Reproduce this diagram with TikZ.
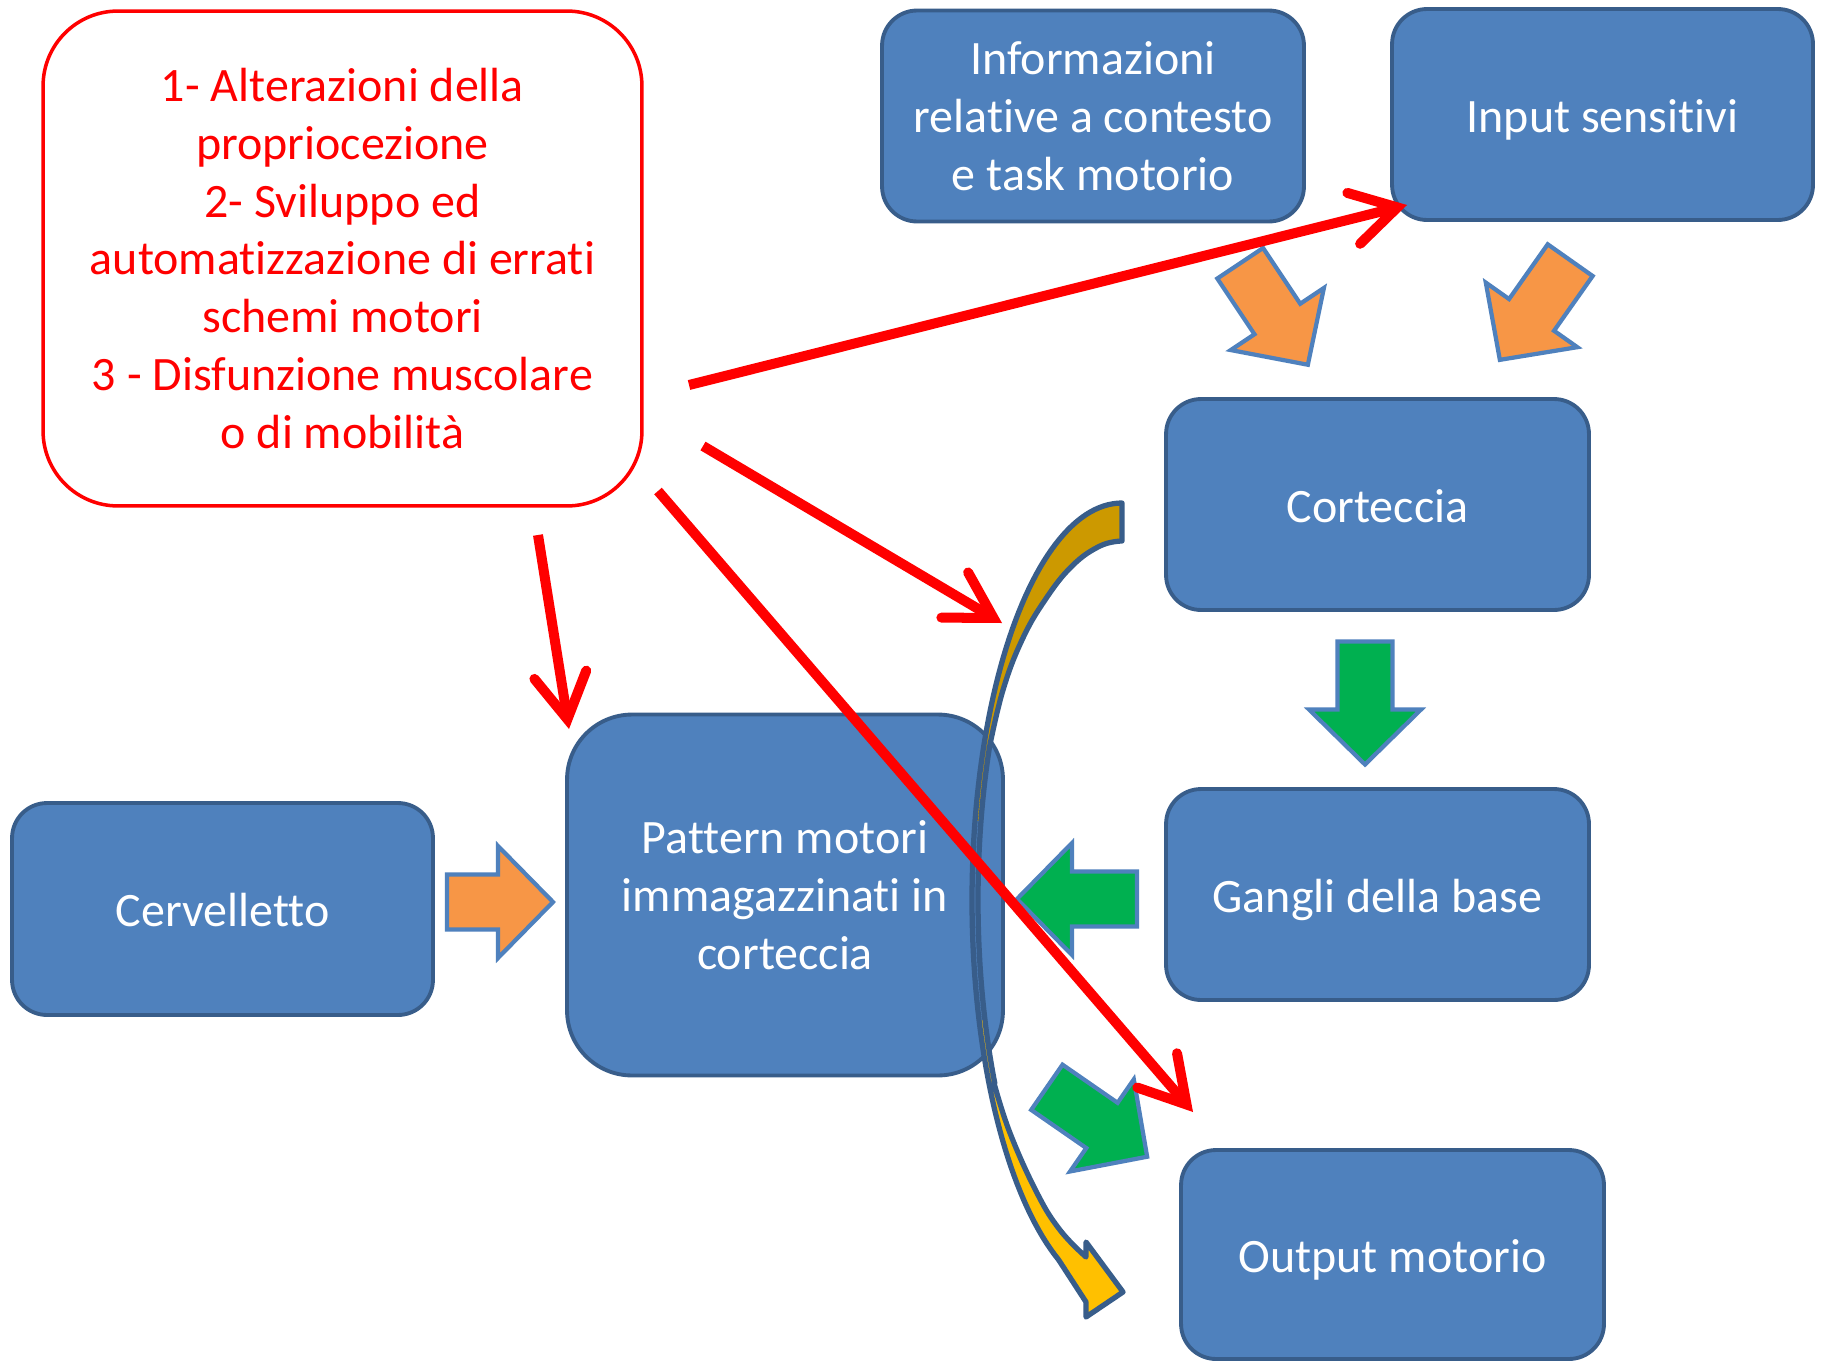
\documentclass[tikz,border=0pt]{standalone}
\usepackage{fontspec}
\setmainfont{Carlito}[Ligatures=CommonOff]
\usetikzlibrary{arrows.meta}
\definecolor{boxfill}{HTML}{4F81BD}
\definecolor{boxline}{HTML}{385D8A}
\definecolor{arrline}{HTML}{4F81BD}
\definecolor{orangef}{HTML}{F79646}
\definecolor{greenf}{HTML}{00B050}
\definecolor{goldf}{HTML}{CC9900}
\definecolor{yellowf}{HTML}{FFC000}
\definecolor{redc}{HTML}{FF0000}
\newcommand\blockarr[5]{%
  \begin{scope}[shift={(#1,#2)}, rotate=#3]
    \path[draw=arrline, line width=2.4pt, fill=#5, line join=miter]
      ({-#4/2},-27.5) -- ({#4/2-55},-27.5) -- ({#4/2-55},-56) -- ({#4/2},0)
      -- ({#4/2-55},56) -- ({#4/2-55},27.5) -- ({-#4/2},27.5) -- cycle;
  \end{scope}}
\newcommand\curveshape[1]{%
  \path[#1] plot[domain=270:115, samples=90, variable=\t] ({1122+150*cos(\t)},{900+397*sin(\t)})
    -- (1086,1302) -- (1086,1317) -- (1123,1292) -- (1086,1242) -- (1086,1257)
    -- plot[smooth, tension=0.7] coordinates {(1086,1257) (1060,1230) (1037,1193) (1010,1133) (994,1083)}
    -- plot[domain=152:203, samples=50, variable=\t] ({1122+144*cos(\t)},{900+391*sin(\t)})
    -- plot[smooth, tension=0.7] coordinates {(989.5,747) (1003,690) (1022,640) (1045,600) (1072,566) (1100,546) (1122,541)}
    -- cycle;}
\begin{document}
\begin{tikzpicture}[x=0.02cm, y=-0.02cm,
  bluebox/.style={draw=boxline, line width=2.2pt, fill=boxfill, rounded corners=0.7cm,
    text=white, align=center, font=\fontsize{27.3}{33}\selectfont, inner sep=0pt},
  oneline/.style={text height=20pt, text depth=0pt},
  redbox/.style={draw=redc, line width=2pt, fill=white, rounded corners=1.5cm,
    text=redc, align=center, font=\fontsize{27.3}{32.9}\selectfont, inner sep=0pt},
  redarr/.style={draw=redc, line width=5.7pt,
    -{Straight Barb[length=0.9cm, width=1.05cm, line cap=round, line join=miter]}}]
\useasboundingbox (0,0) rectangle (1825,1369);
\fill[white] (0,0) rectangle (1825,1369);

\node[redbox, minimum width=11.98cm, minimum height=9.9cm] (causes) at (342.5,258.5)
  {1- Alterazioni della\\propriocezione\\2- Sviluppo ed\\automatizzazione di errati\\schemi motori\\3 - Disfunzione muscolare\\o di mobilità};
\node[bluebox, minimum width=8.44cm, minimum height=4.22cm] (info) at (1093,116)
  {Informazioni\\relative a contesto\\e task motorio};
\node[bluebox, oneline, minimum width=8.42cm, minimum height=4.22cm] (input) at (1602.5,114.5) {Input sensitivi};
\node[bluebox, oneline, minimum width=8.46cm, minimum height=4.22cm] (cortex) at (1377.5,504.5) {Corteccia};
\node[bluebox, oneline, minimum width=8.46cm, minimum height=4.22cm] (gangli) at (1377.5,894.5) {Gangli della base};
\node[bluebox, oneline, minimum width=8.46cm, minimum height=4.18cm] (output) at (1392.5,1254.5) {Output motorio};
\node[bluebox, oneline, minimum width=8.42cm, minimum height=4.24cm] (cerv) at (222.5,909) {Cervelletto};
\node[bluebox, rounded corners=1.3cm, minimum width=8.72cm, minimum height=7.22cm] (pattern) at (785,895)
  {Pattern motori\\immagazzinati in\\corteccia};

% curved arrow
\begin{scope}
  \clip (0,0) rectangle (1825,820);
  \curveshape{fill=goldf}
\end{scope}
\begin{scope}
  \clip (0,1020) rectangle (1825,1369);
  \curveshape{fill=yellowf}
\end{scope}
\curveshape{draw=boxline, line width=3pt, line join=round}

% block arrows
\blockarr{500}{902}{0}{106}{orangef}
\blockarr{1274}{314}{-56.3}{122}{orangef}
\blockarr{1535}{310}{-125.2}{122}{orangef}
\blockarr{1365}{703}{-90}{123}{greenf}
\blockarr{1077}{899}{180}{120}{greenf}
\blockarr{1097}{1122}{-34.7}{122}{greenf}

% red arrows
\coordinate (r1s) at (689,385);  \coordinate (r1e) at (1407,205);
\coordinate (r2s) at (703,446);  \coordinate (r2e) at (1002,623);
\coordinate (r3s) at (658,491);  \coordinate (r3e) at (1193,1112);
\coordinate (r4s) at (538,535);  \coordinate (r4e) at (569,729);
\draw[redarr] (r1s) -- (r1e);
\draw[redarr] (r2s) -- (r2e);
\draw[redarr] (r3s) -- (r3e);
\draw[redarr] (r4s) -- (r4e);
\end{tikzpicture}
\end{document}
